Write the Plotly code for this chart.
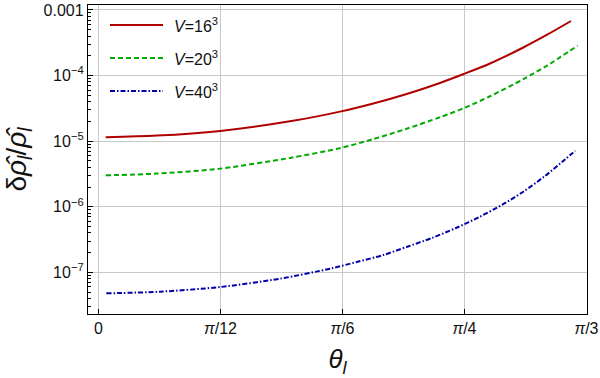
import math
import plotly.graph_objects as go

# ---- data (theta, relative error) ----
theta_16 = [0.0155, 0.1249, 0.2614, 0.4109, 0.5182, 0.5897, 0.6614, 0.7328, 0.7837, 0.8401, 0.9116, 0.9618, 1.0139]
err_16 = [1.147e-5, 1.216e-5, 1.435e-5, 2.009e-5, 2.825e-5, 3.758e-5, 5.248e-5, 7.727e-5,
          1.057e-4, 1.528e-4, 2.679e-4, 4.159e-4, 6.792e-4]

theta_20 = [0.0155, 0.1249, 0.2614, 0.4109, 0.5182, 0.5897, 0.6614, 0.7328, 0.7837, 0.8401, 0.9116, 0.9618, 1.0283]
err_20 = [3.020e-6, 3.206e-6, 3.819e-6, 5.559e-6, 7.834e-6, 1.076e-5, 1.549e-5, 2.317e-5,
          3.184e-5, 4.842e-5, 8.810e-5, 1.409e-4, 2.858e-4]

theta_40 = [0.0167, 0.132, 0.2622, 0.3895, 0.5004, 0.5541, 0.6112, 0.6627, 0.7150, 0.7672,
            0.8172, 0.8665, 0.9116, 0.9582, 1.0017, 1.0232]
err_40 = [4.80e-8, 5.08e-8, 6.00e-8, 8.02e-8, 1.155e-7, 1.442e-7, 1.841e-7, 2.466e-7, 3.342e-7,
          4.753e-7, 6.998e-7, 1.076e-6, 1.698e-6, 2.951e-6, 5.297e-6, 7.161e-6]

series_names = ["<i>V</i>=16<sup>3</sup>", "<i>V</i>=20<sup>3</sup>", "<i>V</i>=40<sup>3</sup>"]
series_colors = ["#B00000", "#00AA00", "#0000AA"]
series_dashes = ["solid", "5px,3px", "5px,2px,1.5px,2px"]

x_tickvals = [0, math.pi / 12, math.pi / 6, math.pi / 4, math.pi / 3]
x_ticktext = ["0", "<i>π</i>/12", "<i>π</i>/6", "<i>π</i>/4", "<i>π</i>/3"]
y_tickvals = [1e-3, 1e-4, 1e-5, 1e-6, 1e-7]
y_ticktext = ["0.001", "10<sup>−4</sup>", "10<sup>−5</sup>", "10<sup>−6</sup>", "10<sup>−7</sup>"]

xs = [theta_16, theta_20, theta_40]
ys = [err_16, err_20, err_40]

fig = go.Figure()
for x, y, name, c, d in zip(xs, ys, series_names, series_colors, series_dashes):
    fig.add_trace(go.Scatter(x=x, y=y, mode="lines", name=name, showlegend=False,
                             line=dict(color=c, width=2, dash=d, shape="spline", smoothing=0.8)))

# manual legend (top-left inside the frame)
leg_rows = [0.9353, 0.8285, 0.7217]
for yy, name, c, d in zip(leg_rows, series_names, series_colors, series_dashes):
    fig.add_shape(type="line", xref="paper", yref="paper", x0=0.0441, x1=0.1503, y0=yy, y1=yy,
                  line=dict(color=c, width=2, dash=d))
    fig.add_annotation(xref="paper", yref="paper", x=0.1683, y=yy, text=name, showarrow=False,
                       xanchor="left", yanchor="middle",
                       font=dict(family="Liberation Sans, Arial", size=16, color="#111111"))

fig.update_layout(
    width=600, height=378,
    margin=dict(l=88, r=13, t=5, b=64),
    paper_bgcolor="white", plot_bgcolor="white",
    font=dict(family="Liberation Sans, Arial", size=16, color="#111111"),
    showlegend=False,
)
fig.update_xaxes(
    range=[-0.0225, 1.0483], automargin=False,
    tickvals=x_tickvals, ticktext=x_ticktext,
    ticks="inside", ticklen=5, tickcolor="black",
    showline=True, linecolor="black", linewidth=1.3, mirror=True,
    showgrid=True, gridcolor="#C8C8C8", gridwidth=1,
    zeroline=False,
    tickfont=dict(size=16),
    title=dict(text="<i>θ</i><sub><i>l</i></sub>", font=dict(size=26), standoff=13),
)
fig.update_yaxes(
    type="log", range=[-7.634, -2.924], automargin=False,
    tickvals=y_tickvals, ticktext=y_ticktext,
    ticks="inside", ticklen=5, tickcolor="black",
    minor=dict(ticks="inside", ticklen=3, tickcolor="black", dtick="D1", showgrid=False),
    showline=True, linecolor="black", linewidth=1.3, mirror=True,
    showgrid=True, gridcolor="#C8C8C8", gridwidth=1,
    zeroline=False,
    tickfont=dict(size=16),
    title=dict(text="δ<i>ρ̂</i><sub><i>l</i></sub>/<i>ρ̂</i><sub><i>l</i></sub>", font=dict(size=28), standoff=8),
)

fig.write_html("out.html", config={"displayModeBar": False},
               post_script="document.body.style.margin='0';document.body.style.padding='0';")
